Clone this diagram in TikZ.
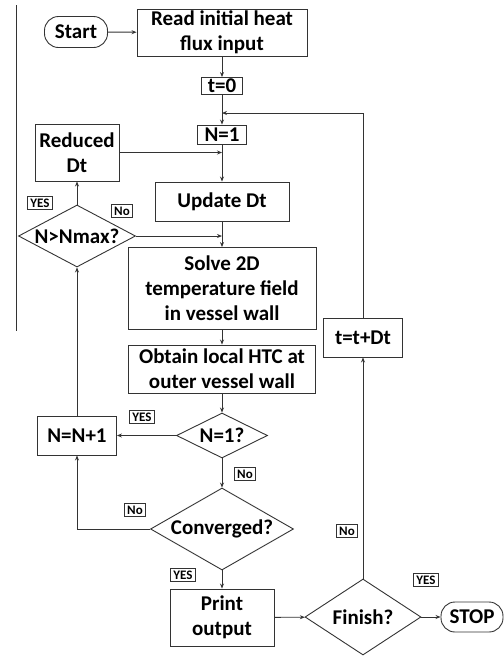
\documentclass[tikz,border=0pt]{standalone}
\usepackage{fontspec}
\setmainfont{Carlito}
\usepackage{tikz}
\usetikzlibrary{shapes.geometric,arrows.meta,positioning,calc}

\newcommand{\dtext}[1]{\makebox[0pt]{#1}}

\begin{document}
\begin{tikzpicture}[
  x=1pt, y=-1pt,
  >={Stealth[length=5pt,width=4pt]},
  every node/.style={font=\bfseries\fontsize{21}{25}\selectfont},
  line width=0.9pt, draw=black!80,
  box/.style={draw=black!80, rectangle, align=center, inner sep=0.5pt},
  term/.style={draw=black!80, rectangle, rounded corners=14pt, inner sep=1pt},
  test/.style={draw=black!80, diamond, inner sep=0pt},
  tag/.style={draw=black!80, rectangle, inner sep=2.5pt,
              font=\bfseries\fontsize{13}{14}\selectfont}
]
\useasboundingbox (0,0) rectangle (504,657);

\node (start)   [term, minimum width=63, minimum height=31] at (76,32)   {Start};
\node (read)    [box, minimum width=170, minimum height=47] at (222,32.5) {Read initial heat\\flux input};
\node (tzero)   [box, minimum width=41, minimum height=17]  at (222,86)  {t=0};
\node (none)    [box, minimum width=49, minimum height=19]  at (222,134.5) {N=1};
\node (update)  [box, minimum width=134, minimum height=39] at (222,201.5) {Update Dt};
\node (solve)   [box, minimum width=188, minimum height=82] at (222,288.5)
                {Solve 2D\\temperature field\\in vessel wall};
\node (obtain)  [box, minimum width=187, minimum height=48] at (222,369)
                {Obtain local HTC at\\outer vessel wall};
\node (isone)   [test, minimum width=91, minimum height=45]  at (222,435.5) {\dtext{N=1?}};
\node (conv)    [test, minimum width=143, minimum height=82] at (222,529)   {\dtext{Converged?}};
\node (print)   [box, minimum width=104, minimum height=57]  at (222,617.5) {Print\\output};
\node (finish)  [test, minimum width=116, minimum height=76] at (363,617)   {\dtext{Finish?}};
\node (stop)    [term, minimum width=62, minimum height=30]  at (472,617)   {STOP};
\node (tstep)   [box, minimum width=79, minimum height=39]   at (363,337.5) {t=t+Dt};

\node (reduced) [box, minimum width=84, minimum height=57]   at (77,152.5)  {Reduced\\Dt};
\node (nmax)    [test, minimum width=117, minimum height=62] at (77,236)    {\dtext{N>Nmax?}};
\node (incr)    [box, minimum width=79, minimum height=39]   at (77,435.5)  {N=N+1};

\node (yesmax)  [tag] at (40,203)  {YES};
\node (nomax)   [tag] at (122,211) {No};
\node (yesone)  [tag] at (142,417) {YES};
\node (noone)   [tag] at (245,474) {No};
\node (noconv)  [tag] at (135,510) {No};
\node (yesconv) [tag] at (183,575) {YES};
\node (nofin)   [tag] at (347,531) {No};
\node (yesfin)  [tag] at (426,580) {YES};

\coordinate (back) at (222,113);

% page edge
\draw (16.5,5) -- (16.5,331);

\draw[->] (start)   -- (read);
\draw[->] (read)    -- (tzero);
\draw[->] (tzero)   -- (none);
\draw[->] (none)    -- (update);
\draw[->] (update)  -- (solve);
\draw[->] (solve)   -- (obtain);
\draw[->] (obtain)  -- (isone);
\draw[->] (isone)   -- (conv);
\draw[->] (conv)    -- (print);
\draw[->] (print)   -- (finish);
\draw[->] (finish)  -- (stop);
\draw[->] (finish)  -- (tstep);
\draw[->] (tstep)   |- (back);
\draw[->] (isone)   -- (incr);
\draw[->] (conv)    -| (incr);
\draw[->] (incr)    -- (nmax);
\draw[->] (nmax)    -- (reduced);
\draw[->] (reduced) -- (reduced -| none);
\draw[->] (nmax)    -- (nmax -| update);
\end{tikzpicture}
\end{document}
